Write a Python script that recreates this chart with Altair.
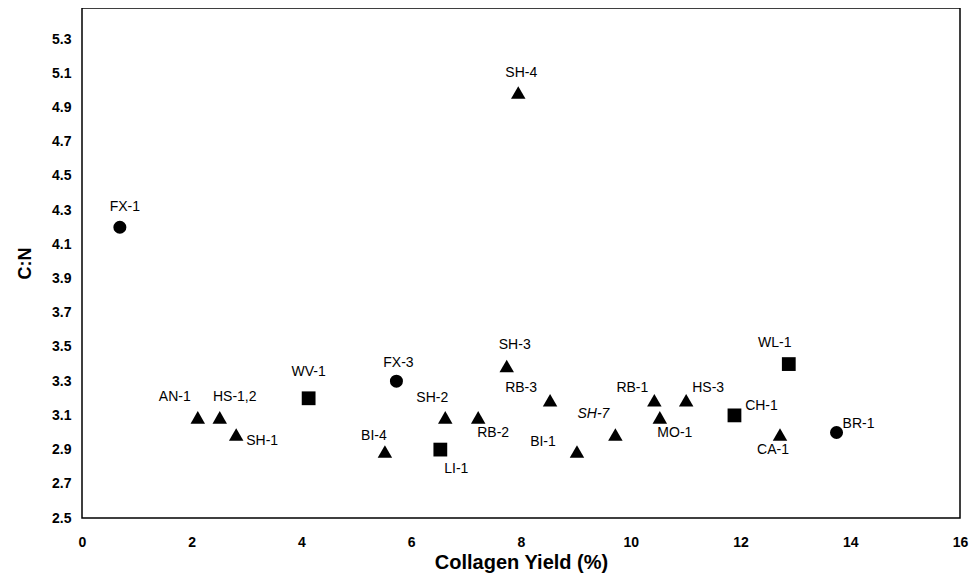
import altair as alt
import pandas as pd

# ---- data ----
labels = ["FX-1", "SH-4", "AN-1", "HS-1,2", "SH-1", "WV-1", "FX-3", "BI-4", "LI-1",
          "SH-2", "RB-2", "SH-3", "RB-3", "BI-1", "SH-7", "RB-1", "MO-1", "HS-3",
          "CH-1", "WL-1", "CA-1", "BR-1"]
collagen_yield = [0.69, 7.95, 2.11, 2.51, 2.81, 4.13, 5.73, 5.52, 6.53,
                  6.62, 7.22, 7.74, 8.53, 9.02, 9.72, 10.43, 10.53, 11.01,
                  11.89, 12.88, 12.72, 13.75]
c_n = [4.2, 5.0, 3.1, 3.1, 3.0, 3.2, 3.3, 2.9, 2.9,
       3.1, 3.1, 3.4, 3.2, 2.9, 3.0, 3.2, 3.1, 3.2,
       3.1, 3.4, 3.0, 3.0]
group = ["circle", "triangle", "triangle", "triangle", "triangle", "square", "circle",
         "triangle", "square", "triangle", "triangle", "triangle", "triangle", "triangle",
         "triangle", "triangle", "triangle", "triangle", "square", "square", "triangle",
         "circle"]
x_ticks = [0, 2, 4, 6, 8, 10, 12, 14, 16]
y_ticks = [2.5, 2.7, 2.9, 3.1, 3.3, 3.5, 3.7, 3.9, 4.1, 4.3, 4.5, 4.7, 4.9, 5.1, 5.3]

df = pd.DataFrame({"label": labels, "yield": collagen_yield, "cn": c_n, "group": group})

# label placement (pixel offsets from the marker), styling only
LABEL_OFFSETS = {
    "FX-1": (5, -20), "SH-4": (3, -17), "AN-1": (-23, -18), "HS-1,2": (15, -18),
    "SH-1": (26, 9), "WV-1": (0, -26), "FX-3": (2, -18), "BI-4": (-11, -14),
    "LI-1": (16, 19), "SH-2": (-13, -17), "RB-2": (15, 18), "SH-3": (8, -19),
    "RB-3": (-29, -10), "BI-1": (-34, -8), "SH-7": (-22, -18), "RB-1": (-22, -10),
    "MO-1": (15, 18), "HS-3": (22, -10), "CH-1": (27, -9), "WL-1": (-14, -21),
    "CA-1": (-7, 18), "BR-1": (22, -8),
}

FONT = "Liberation Sans"

xscale = alt.Scale(domain=[0, 16], nice=False, zero=False)
yscale = alt.Scale(domain=[2.5, 5.482], nice=False, zero=False)

xaxis = alt.Axis(title="Collagen Yield (%)", values=x_ticks, format="d",
                 grid=False, ticks=False, domain=False, labelOverlap=False,
                 labelFlush=False,
                 labelFont=FONT, labelFontSize=14, labelFontWeight="bold",
                 labelColor="black", labelPadding=17,
                 titleFont=FONT, titleFontSize=20, titleFontWeight="bold",
                 titleColor="black", titleY=50, titleBaseline="alphabetic")
yaxis = alt.Axis(title="C:N", values=y_ticks, format=".1f",
                 grid=False, ticks=False, domain=False, labelOverlap=False,
                 labelFlush=False,
                 labelFont=FONT, labelFontSize=14, labelFontWeight="bold",
                 labelColor="black", labelPadding=11,
                 titleFont=FONT, titleFontSize=18, titleFontWeight="bold",
                 titleColor="black", titleAngle=-90, titleAlign="center",
                 titleBaseline="middle", titleX=-57, titleY=255)

xenc = alt.X("yield:Q", scale=xscale, axis=xaxis)
yenc = alt.Y("cn:Q", scale=yscale, axis=yaxis)

base = alt.Chart(df)

shape_layers = []
shape_specs = {"circle": ("circle", 170, 0), "triangle": ("triangle-up", 210, 2),
               "square": ("square", 190, 0)}
for g, (shp, sz, yoff) in shape_specs.items():
    shape_layers.append(
        base.transform_filter(alt.datum.group == g)
        .mark_point(shape=shp, size=sz, filled=True, color="black", opacity=1, yOffset=yoff)
        .encode(x=xenc, y=yenc)
    )

text_layers = []
for name, (dx, dy) in LABEL_OFFSETS.items():
    text_layers.append(
        base.transform_filter(alt.datum.label == name)
        .mark_text(font=FONT, fontSize=14, color="black", align="center",
                   baseline="middle", dx=dx, dy=dy,
                   fontStyle="italic" if name == "SH-7" else "normal")
        .encode(x=xenc, y=yenc, text="label:N")
    )

chart = alt.layer(*shape_layers, *text_layers).properties(
    width=878, height=510,
    autosize=alt.AutoSizeParams(type="none"),
    padding={"left": 74, "top": 0, "right": 10, "bottom": 55},
    background="white",
).configure_view(stroke="black", strokeWidth=1.5)

chart.save("out.html", embed_options={"renderer": "svg", "actions": False})
